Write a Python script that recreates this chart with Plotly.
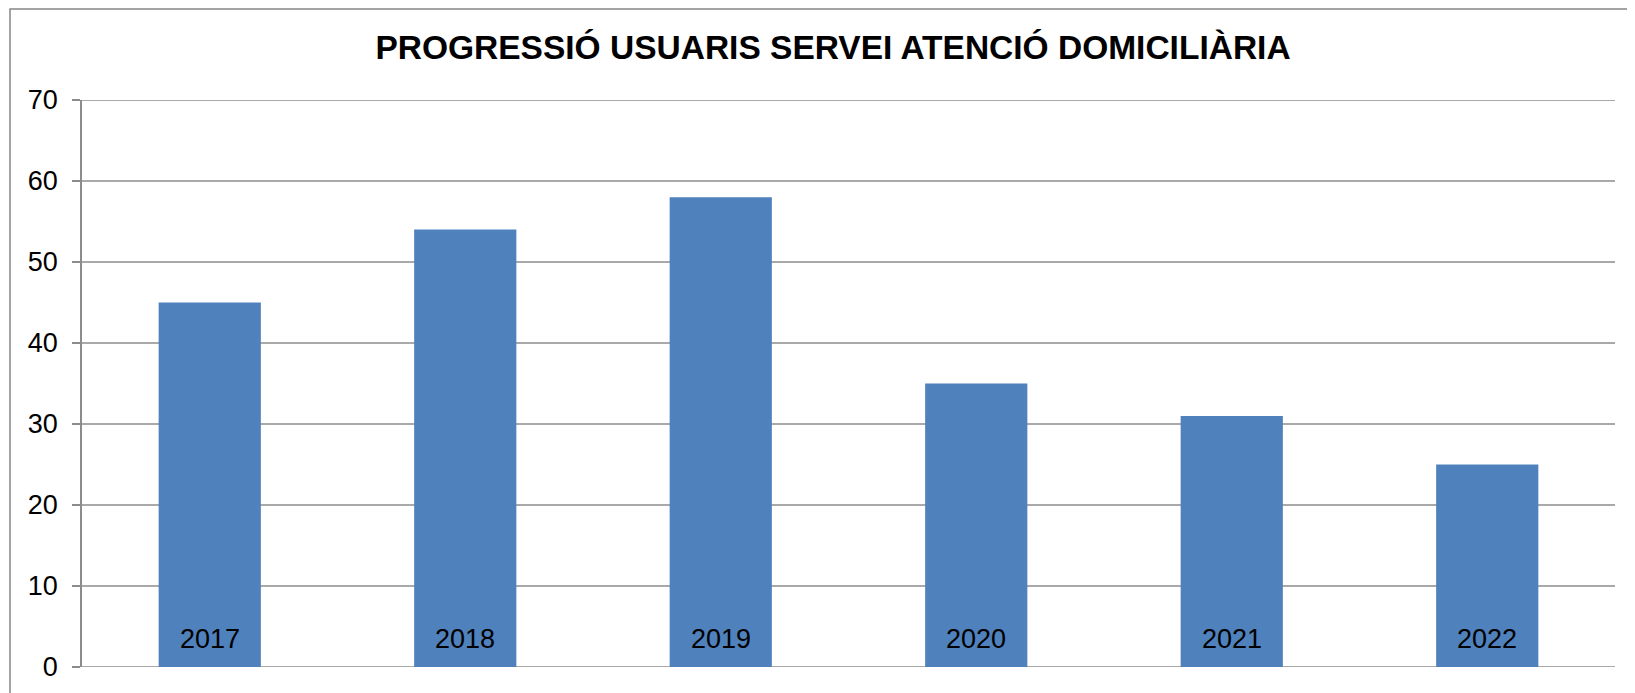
import plotly.graph_objects as go

years = ["2017", "2018", "2019", "2020", "2021", "2022"]
usuaris = [45, 54, 58, 35, 31, 25]
y_ticks = [0, 10, 20, 30, 40, 50, 60, 70]
title_text = "PROGRESSIÓ USUARIS SERVEI ATENCIÓ DOMICILIÀRIA"

W, H = 1635, 693
OFF = 8  # page body margin
L, R, T, B = 82 - OFF, 20 + OFF, 100 - OFF, 26 + OFF
pw, ph = W - L - R, H - T - B
GRID = "#8c8c8c"

fig = go.Figure()
fig.add_trace(go.Bar(
    x=years, y=usuaris, width=0.4,
    marker=dict(color="#4F81BD", line=dict(width=0)),
    hoverinfo="x+y",
))

# category labels inside the bars, at their base
for i, yr in enumerate(years):
    fig.add_annotation(x=i, y=0, xref="x", yref="y", text=yr, showarrow=False,
                       yanchor="bottom", yshift=11,
                       font=dict(family="Liberation Sans, Arial", size=27, color="#000000"))

# horizontal gridlines at every tick value
for v in y_ticks:
    fig.add_shape(type="line", xref="paper", yref="y", x0=0, x1=1, y0=v, y1=v,
                  line=dict(color=GRID, width=1.5), layer="below")

# outer chart frame
fig.add_shape(type="rect", xref="paper", yref="paper",
              x0=(10 - OFF - L) / pw, x1=(W + 20 - L) / pw,
              y0=-(B + 20) / ph, y1=(H - B - (9 - OFF)) / ph,
              line=dict(color="#878787", width=1.5), fillcolor="rgba(0,0,0,0)", layer="below")

fig.update_layout(
    width=W, height=H,
    margin=dict(l=L, r=R, t=T, b=B, pad=0),
    paper_bgcolor="white", plot_bgcolor="white",
    showlegend=False,
    font=dict(family="Liberation Sans, Arial", color="#000000"),
    title=dict(text="<b>" + title_text + "</b>", x=(833 - OFF) / W, xanchor="center",
               y=1 - (47.5 - OFF) / H, yanchor="middle",
               font=dict(family="Liberation Sans, Arial", size=33.5, color="#000000")),
    xaxis=dict(type="category", showticklabels=False, showgrid=False, zeroline=False,
               showline=False, ticks="", range=[-0.5, 5.5]),
    yaxis=dict(range=[0, 70], tickvals=y_ticks, ticktext=[str(v) for v in y_ticks],
               showgrid=False, zeroline=False, showline=True, linecolor=GRID, linewidth=1.5,
               ticks="outside", ticklen=8, tickcolor=GRID, tickwidth=1.5,
               ticklabelstandoff=9,
               tickfont=dict(family="Liberation Sans, Arial", size=27, color="#000000")),
)

fig.write_html("out.html")
